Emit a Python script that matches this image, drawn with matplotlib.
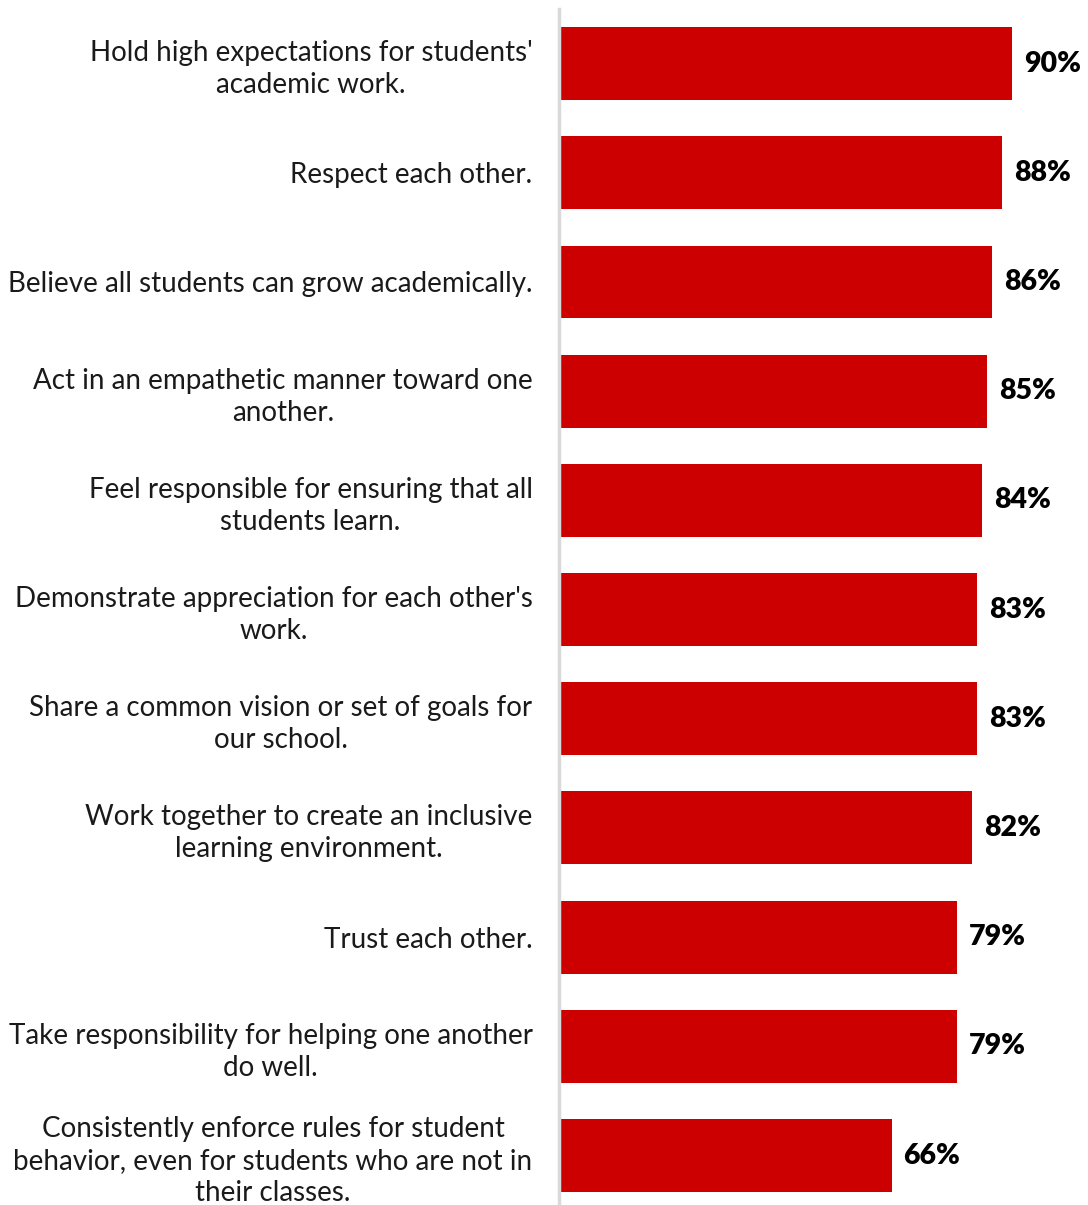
import numpy as np
import matplotlib
matplotlib.use('Agg')
import matplotlib.pyplot as plt

#==============================================================================
#DATA
#==============================================================================

labels = [
    "Hold high expectations for students'\nacademic work.",
    "Respect each other.",
    "Believe all students can grow academically.",
    "Act in an empathetic manner toward one\nanother.",
    "Feel responsible for ensuring that all\nstudents learn.",
    "Demonstrate appreciation for each other's\nwork.",
    "Share a common vision or set of goals for\nour school.",
    "Work together to create an inclusive\nlearning environment.",
    "Trust each other.",
    "Take responsibility for helping one another\ndo well.",
    "Consistently enforce rules for student\nbehavior, even for students who are not in\ntheir classes.",
]
values = [90, 88, 86, 85, 84, 83, 83, 82, 79, 79, 66]
value_text = ['90%', '88%', '86%', '85%', '84%', '83%', '83%', '82%', '79%', '79%', '66%']

#==============================================================================
#SETTINGS
#==============================================================================

plt.rcParams['font.family'] = ['Lato', 'DejaVu Sans']
label_font = 20
value_font = 20.5
bar_color = '#cc0000'

#==============================================================================
#PLOTTING
#==============================================================================

W, H = 1088, 1205
f = plt.figure(figsize=(W/100, H/100), dpi=100)
ax = f.add_axes([559/W, 0, (W-559)/W, (H-9)/H])

y = np.arange(len(values))
ax.barh(y, values, height=0.668, color=bar_color, zorder=2)

for yi, v, t in zip(y, values, value_text):
    ax.text(v + 2.3, yi, t, va='center', ha='left', fontsize=value_font,
            fontweight='heavy', color='black')

ax.set_xlim(0, 105)
ax.set_ylim(10.453, -0.5)
ax.set_yticks(y)
ax.set_yticklabels(labels, fontsize=label_font, color='#1a1a1a', ha='right',
                   linespacing=1.28)
for lab in ax.get_yticklabels():
    lab.set_multialignment('center')
ax.tick_params(axis='y', length=0, pad=19)
ax.set_xticks([])

for s in ['top', 'right', 'bottom']:
    ax.spines[s].set_visible(False)
ax.spines['left'].set_color('#d9d9d9')
ax.spines['left'].set_linewidth(2.5)

f.savefig('out.png', dpi=100)
